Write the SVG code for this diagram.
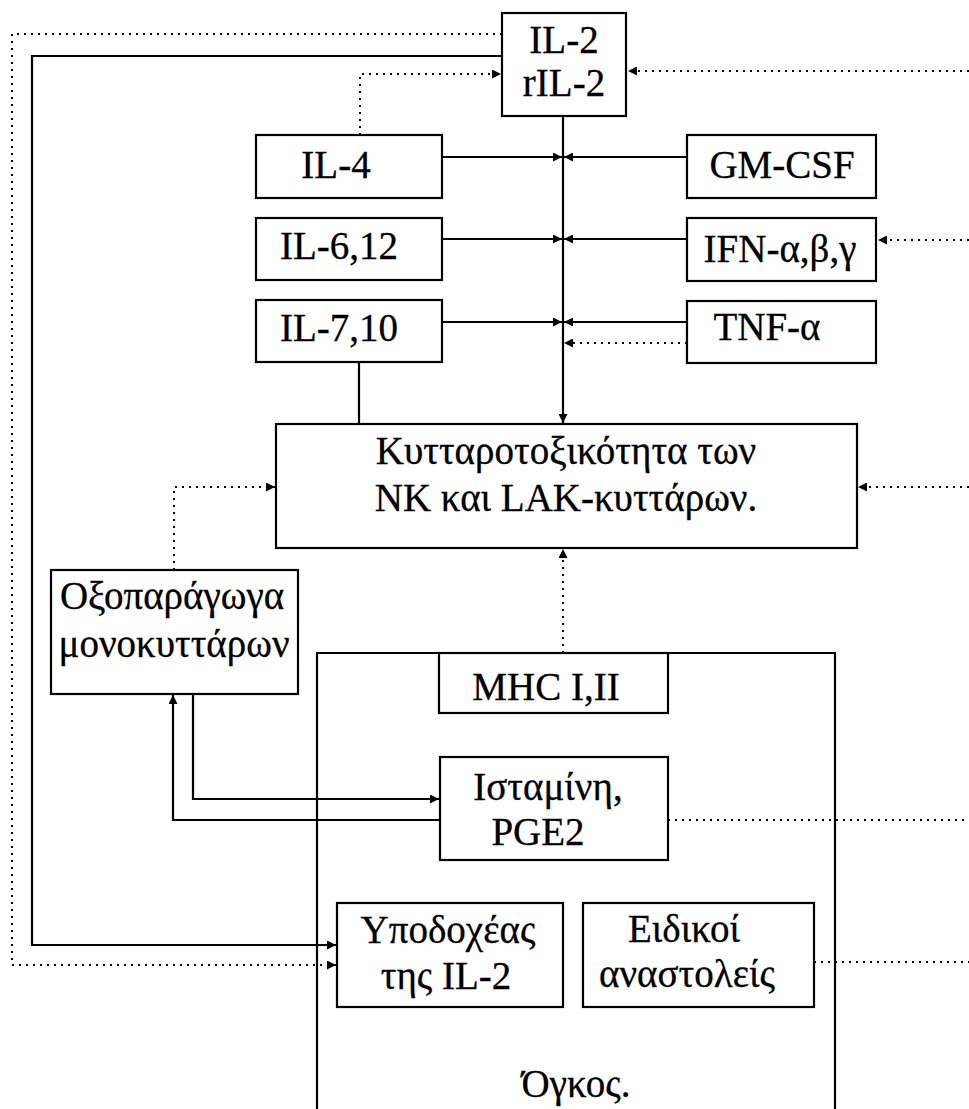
<svg xmlns="http://www.w3.org/2000/svg" width="969" height="1109" viewBox="0 0 969 1109">
<defs>
<style>
.box{fill:#fff;stroke:#000;stroke-width:2.2}
.bg{fill:none;stroke:#000;stroke-width:2.2}
.t{font-size:39px;fill:#000;text-anchor:middle;stroke:#000;stroke-width:0.3}
.s{fill:none;stroke:#000;stroke-width:2.2}
.d{fill:none;stroke:#000;stroke-width:2;stroke-dasharray:2 5}
</style>
<marker id="ah" viewBox="0 0 10 10" refX="10" refY="5" markerWidth="10" markerHeight="9" orient="auto" markerUnits="userSpaceOnUse"><path d="M0,0 L10,5 L0,10 z" fill="#000"/></marker>
</defs>
<rect width="969" height="1109" fill="#fff"/>
<g font-family="Liberation Serif, DejaVu Serif, serif">
<g id="tumor">
<path class="bg" d="M317,1109 V653 H835 V1109"/>
<text class="t" x="576" y="1097">Όγκος.</text>
</g>

<g id="connectors">
<path class="s" d="M502,56 H32 V945 H336" marker-end="url(#ah)"/>
<path class="d" d="M502,34 H12 V965 H336" marker-end="url(#ah)"/>
<path class="d" d="M360,135 V74 H501" marker-end="url(#ah)"/>
<path class="d" d="M969,71 H628" marker-end="url(#ah)"/>
<path class="d" d="M969,240 H878" marker-end="url(#ah)"/>
<path class="d" d="M969,487 H858" marker-end="url(#ah)"/>
<path class="s" d="M563,116 V423" marker-end="url(#ah)"/>
<path class="s" d="M442,157 H562" marker-end="url(#ah)"/>
<path class="s" d="M442,239 H562" marker-end="url(#ah)"/>
<path class="s" d="M442,322 H562" marker-end="url(#ah)"/>
<path class="s" d="M687,157 H564" marker-end="url(#ah)"/>
<path class="s" d="M687,239 H564" marker-end="url(#ah)"/>
<path class="s" d="M687,322 H564" marker-end="url(#ah)"/>
<path class="d" d="M687,343 H564" marker-end="url(#ah)"/>
<path class="s" d="M359,362 V424"/>
<path class="d" d="M563,653 V549" marker-end="url(#ah)"/>
<path class="d" d="M174,570 V487 H275" marker-end="url(#ah)"/>
<path class="s" d="M193,694 V799 H439" marker-end="url(#ah)"/>
<path class="s" d="M440,820 H173 V695" marker-end="url(#ah)"/>
<path class="d" d="M668,820 H969"/>
<path class="d" d="M814,962 H969"/>
</g>

<g id="il2">
<rect class="box" x="502" y="13" width="124" height="103"/>
<text class="t" x="564" y="53">IL-2</text>
<text class="t" x="564" y="96">rIL-2</text>
</g>
<g id="il4">
<rect class="box" x="256" y="135" width="186" height="63"/>
<text class="t" x="336" y="178">IL-4</text>
</g>
<g id="gmcsf">
<rect class="box" x="687" y="135" width="189" height="63"/>
<text class="t" x="782" y="178" font-size="42">GM-CSF</text>
</g>
<g id="il6">
<rect class="box" x="256" y="218" width="186" height="62"/>
<text class="t" x="339" y="259">IL-6,12</text>
</g>
<g id="ifn">
<rect class="box" x="687" y="218" width="189" height="63"/>
<text class="t" x="780" y="262">IFN-α,β,γ</text>
</g>
<g id="il7">
<rect class="box" x="256" y="300" width="186" height="62"/>
<text class="t" x="339" y="341">IL-7,10</text>
</g>
<g id="tnf">
<rect class="box" x="687" y="301" width="189" height="62"/>
<text class="t" x="767" y="340">TNF-α</text>
</g>
<g id="cyto">
<rect class="box" x="276" y="424" width="581" height="124"/>
<text class="t" x="566" y="464">Κυτταροτοξικότητα των</text>
<text class="t" x="566" y="511">ΝΚ και LAK-κυττάρων.</text>
</g>
<g id="mono">
<rect class="box" x="51" y="570" width="247" height="124"/>
<text class="t" x="172" y="609">Οξοπαράγωγα</text>
<text class="t" x="174" y="657">μονοκυττάρων</text>
</g>
<g id="mhc">
<rect class="box" x="439" y="653" width="229" height="60"/>
<text class="t" x="546" y="700">MHC I,II</text>
</g>
<g id="hist">
<rect class="box" x="440" y="757" width="228" height="103"/>
<text class="t" x="548" y="800">Ισταμίνη,</text>
<text class="t" x="538" y="845">PGE2</text>
</g>
<g id="rec">
<rect class="box" x="337" y="903" width="226" height="104"/>
<text class="t" x="448" y="943">Υποδοχέας</text>
<text class="t" x="446" y="989">της IL-2</text>
</g>
<g id="inh">
<rect class="box" x="583" y="903" width="231" height="104"/>
<text class="t" x="684" y="942">Ειδικοί</text>
<text class="t" x="687" y="987">αναστολείς</text>
</g>
</g>
</svg>
